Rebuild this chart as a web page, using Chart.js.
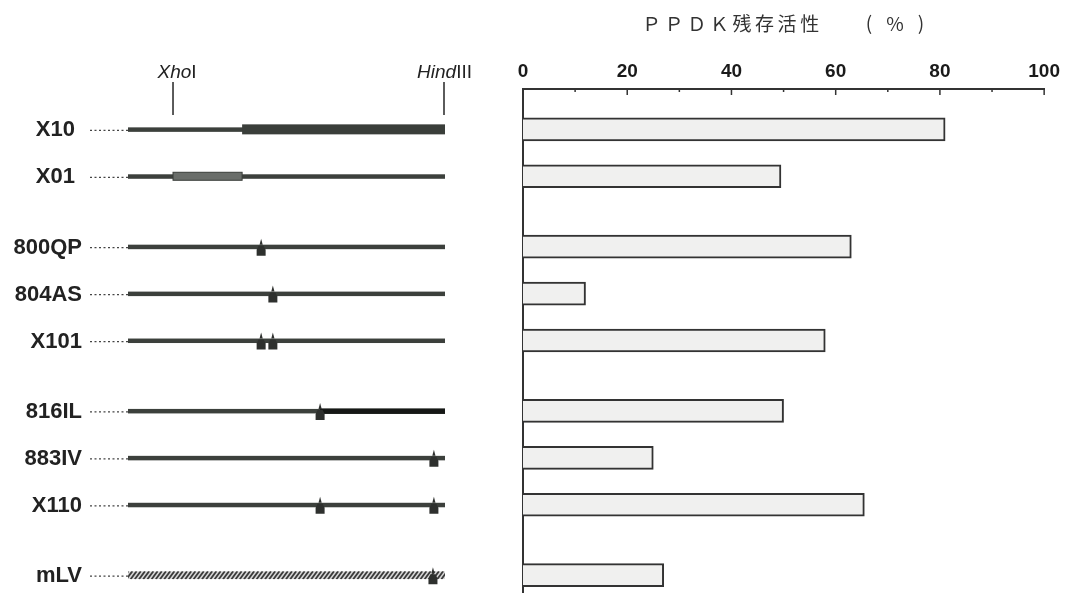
<!DOCTYPE html>
<html>
<head>
<meta charset="utf-8">
<script src="https://cdn.jsdelivr.net/npm/chart.js@4.4.0/dist/chart.umd.min.js"></script>
<style>
  html, body { margin: 0; padding: 0; background: #fff; }
  #wrap { width: 1066px; height: 593px; position: relative; }
</style>
</head>
<body>
<div id="wrap"><canvas id="chart"></canvas></div>
<script>
// PPDK residual activity (%) per construct
const constructs = ['X10', 'X01', '800QP', '804AS', 'X101', '816IL', '883IV', 'X110', 'mLV'];
const activity = [81, 49.5, 63, 12, 58, 50, 25, 65.5, 27];
const groupSizes = [2, 3, 3, 1];
const xTicks = [0, 20, 40, 60, 80, 100];

// construct drawings, as fractions of the XhoI..HindIII fragment
const xhoSite = 0.142;
const thickPart = [[0.36, 1], null, null, null, null, null, null, null, null];
const boxPart = [null, [0.142, 0.36], null, null, null, null, null, null, null];
const darkPart = [null, null, null, null, null, [0.606, 1], null, null, null];
const mutations = [[], [], [0.42], [0.457], [0.42, 0.457], [0.606], [0.965], [0.606, 0.965], [0.962]];
const hatched = [false, false, false, false, false, false, false, false, true];

// rows within a group sit one unit apart, groups are split by an extra half unit
const rowPos = [];
let pos = 0;
groupSizes.forEach((n, g) => {
  if (g > 0) pos += 0.5;
  for (let i = 0; i < n; i++) { rowPos.push(pos); pos++; }
});

const LINE = '#3c403c';

function drawMutation(ctx, x, y) {
  ctx.fillStyle = '#2e302e';
  ctx.beginPath();
  ctx.moveTo(x, y - 8);
  ctx.lineTo(x + 1.6, y - 2);
  ctx.lineTo(x - 1.6, y - 2);
  ctx.closePath();
  ctx.fill();
  ctx.beginPath();
  ctx.moveTo(x - 2.5, y - 1);
  ctx.lineTo(x + 2.5, y - 1);
  ctx.lineTo(x + 4.5, y + 3);
  ctx.lineTo(x + 4.5, y + 9);
  ctx.lineTo(x - 4.5, y + 9);
  ctx.lineTo(x - 4.5, y + 3);
  ctx.closePath();
  ctx.fill();
}

function spaced(ctx, text, x, y, gap) {
  for (const ch of text) {
    ctx.fillText(ch, x, y);
    x += ctx.measureText(ch).width + gap;
  }
}

const diagrams = {
  id: 'diagrams',
  afterDraw(chart) {
    const ctx = chart.ctx;
    const ys = chart.scales.y;
    const xs = chart.scales.x;
    const gx0 = 128, gx1 = 445;
    const gx = f => gx0 + (gx1 - gx0) * f;
    ctx.save();

    // title
    ctx.fillStyle = '#333';
    ctx.font = '19px "Noto Sans CJK JP"';
    ctx.textBaseline = 'middle';
    ctx.textAlign = 'left';
    spaced(ctx, 'ＰＰＤＫ残存活性', 642, 24, 3.6);
    ctx.textAlign = 'center';
    ctx.fillText('(', 869, 23);
    ctx.fillText('%', 895, 24);
    ctx.fillText(')', 921, 23);

    // inward ticks on the top axis
    ctx.strokeStyle = '#333';
    ctx.lineWidth = 1.5;
    for (let v = 0; v <= 100; v += 10) {
      const px = xs.getPixelForValue(v);
      ctx.beginPath();
      ctx.moveTo(px, chart.chartArea.top);
      ctx.lineTo(px, chart.chartArea.top + (v % 20 === 0 ? 6 : 3));
      ctx.stroke();
    }

    // restriction sites
    ctx.fillStyle = '#222';
    ctx.textAlign = 'left';
    ctx.textBaseline = 'alphabetic';
    const it = 'italic 19px "Liberation Sans"', rg = '19px "Liberation Sans"';
    ctx.font = it;
    const w1 = ctx.measureText('Xho').width;
    ctx.font = rg;
    const w2 = ctx.measureText('I').width;
    let sx = gx(xhoSite) + 4 - (w1 + w2) / 2;
    ctx.font = it;
    ctx.fillText('Xho', sx, 78);
    ctx.font = rg;
    ctx.fillText('I', sx + w1, 78);
    ctx.font = it;
    const w3 = ctx.measureText('Hind').width;
    ctx.font = rg;
    const w4 = ctx.measureText('III').width;
    sx = 472 - w3 - w4;
    ctx.font = it;
    ctx.fillText('Hind', sx, 78);
    ctx.font = rg;
    ctx.fillText('III', sx + w3, 78);
    ctx.strokeStyle = '#333';
    ctx.lineWidth = 1.6;
    [gx(xhoSite), gx1 - 1].forEach(x => {
      ctx.beginPath();
      ctx.moveTo(x, 82);
      ctx.lineTo(x, 115);
      ctx.stroke();
    });

    constructs.forEach((name, i) => {
      const y = ys.getPixelForValue(rowPos[i]);

      ctx.fillStyle = '#222';
      ctx.font = 'bold 22px "Liberation Sans"';
      ctx.textAlign = 'right';
      ctx.textBaseline = 'middle';
      ctx.fillText(name, i < 2 ? 75 : 82, y + 1);

      ctx.strokeStyle = '#444';
      ctx.lineWidth = 1.2;
      ctx.setLineDash([2, 2.5]);
      ctx.beginPath();
      ctx.moveTo(90, y + 1);
      ctx.lineTo(gx0, y + 1);
      ctx.stroke();
      ctx.setLineDash([]);

      if (hatched[i]) {
        ctx.save();
        ctx.beginPath();
        ctx.rect(gx0, y - 4, gx1 - gx0, 8);
        ctx.clip();
        ctx.fillStyle = '#d8d8d8';
        ctx.fillRect(gx0, y - 4, gx1 - gx0, 8);
        ctx.strokeStyle = '#3a3a3a';
        ctx.lineWidth = 1.8;
        for (let x = gx0 - 10; x < gx1 + 10; x += 4.2) {
          ctx.beginPath();
          ctx.moveTo(x, y + 4);
          ctx.lineTo(x + 6, y - 4);
          ctx.stroke();
        }
        ctx.restore();
      } else {
        ctx.fillStyle = LINE;
        ctx.fillRect(gx0, y - 2, gx1 - gx0, 4.5);
      }
      if (thickPart[i]) {
        const [a, b] = thickPart[i];
        ctx.fillStyle = '#3a3e3a';
        ctx.fillRect(gx(a), y - 5, gx(b) - gx(a), 10);
      }
      if (boxPart[i]) {
        const [a, b] = boxPart[i];
        ctx.fillStyle = '#6a6e6a';
        ctx.fillRect(gx(a), y - 4, gx(b) - gx(a), 8);
        ctx.strokeStyle = '#3a3e3a';
        ctx.lineWidth = 1;
        ctx.strokeRect(gx(a), y - 4, gx(b) - gx(a), 8);
      }
      if (darkPart[i]) {
        const [a, b] = darkPart[i];
        ctx.fillStyle = '#161816';
        ctx.fillRect(gx(a), y - 2.5, gx(b) - gx(a), 5.5);
      }
      mutations[i].forEach(f => drawMutation(ctx, gx(f), y));
    });

    ctx.restore();
  }
};

new Chart(document.getElementById('chart'), {
  type: 'bar',
  data: {
    datasets: [{
      data: activity.map((v, i) => ({ x: v, y: rowPos[i] })),
      backgroundColor: '#f0f0ef',
      borderColor: '#333',
      borderWidth: 2,
      barThickness: 23
    }]
  },
  options: {
    indexAxis: 'y',
    responsive: true,
    maintainAspectRatio: false,
    animation: false,
    layout: { padding: { left: 523, right: 18, top: 0, bottom: 0 } },
    plugins: { legend: { display: false }, tooltip: { enabled: false } },
    scales: {
      x: {
        type: 'linear',
        position: 'top',
        min: 0,
        max: 100,
        afterFit: s => { s.height = 89; },
        afterBuildTicks: s => { s.ticks = xTicks.map(v => ({ value: v })); },
        grid: { display: false, drawTicks: false },
        border: { display: true, color: '#333', width: 2 },
        ticks: {
          padding: 6,
          color: '#1a1a1a',
          maxRotation: 0,
          font: { family: 'Liberation Sans', size: 19, weight: 'bold' }
        }
      },
      y: {
        type: 'linear',
        reverse: true,
        offset: false,
        min: -0.86,
        max: 9.88,
        afterFit: s => { s.width = 0; },
        grid: { display: false, drawTicks: false },
        border: { display: true, color: '#333', width: 2 },
        ticks: { display: false }
      }
    }
  },
  plugins: [diagrams]
});
</script>
</body>
</html>
